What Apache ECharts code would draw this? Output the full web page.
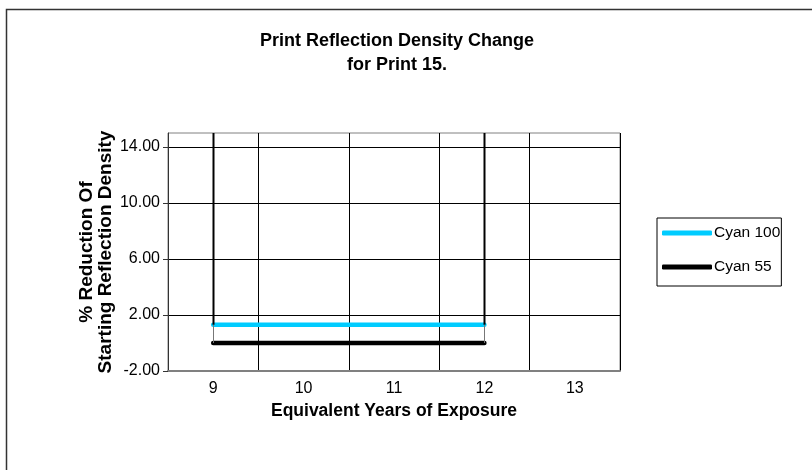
<!DOCTYPE html>
<html>
<head>
<meta charset="utf-8">
<script src="https://cdn.jsdelivr.net/npm/echarts@6/dist/echarts.min.js"></script>
<style>
  html, body { margin: 0; padding: 0; background: #fff; }
  #chart { width: 812px; height: 470px; }
</style>
</head>
<body>
<div id="chart"></div>
<script>
// Exposure years on the category axis
const years = ['9', '10', '11', '12', '13'];
// % reduction of starting reflection density per series
const cyan100 = [1.3, 1.3, 1.3, 1.3, null];
const cyan55 = [0, 0, 0, 0, null];
// Labelled values on the density axis
const yTicks = [-2, 2, 6, 10, 14];
const yMin = -2;
const yMax = 15;
// Categories that carry the vertical marker lines
const markerYears = ['9', '12'];

const font = '"Liberation Sans", Arial, sans-serif';

const chart = echarts.init(document.getElementById('chart'), null, { renderer: 'canvas' });

const markerData = markerYears.map(function (y) {
  const i = years.indexOf(y);
  return [i, yMax, cyan100[i], cyan55[i]];
});

chart.setOption({
  animation: false,
  backgroundColor: '#ffffff',
  textStyle: { fontFamily: font },
  title: {
    text: 'Print Reflection Density Change\nfor Print 15.',
    left: 392,
    top: 24,
    textAlign: 'center',
    textStyle: { fontFamily: font, fontSize: 18, fontWeight: 'bold', color: '#000', lineHeight: 24 }
  },
  legend: {
    orient: 'vertical',
    left: 657,
    top: 218,
    padding: [6, 1, 10, 5],
    itemGap: 16,
    itemWidth: 50,
    itemHeight: 5,
    icon: 'roundRect',
    borderColor: '#000',
    borderWidth: 1,
    borderRadius: 0,
    textStyle: { fontFamily: font, fontSize: 15.5, color: '#000', lineHeight: 18, padding: [0, 0, 0, -3] },
    data: ['Cyan 100', 'Cyan 55']
  },
  grid: {
    left: 168, right: 192, top: 133, bottom: 99,
    show: true, borderColor: '#808080', borderWidth: 1, backgroundColor: '#fff'
  },
  xAxis: {
    type: 'category',
    data: years,
    boundaryGap: true,
    name: 'Equivalent Years of Exposure',
    nameLocation: 'middle',
    nameGap: 31,
    nameMoveOverlap: false,
    nameTextStyle: { fontFamily: font, fontSize: 17.5, fontWeight: 'bold', color: '#000' },
    axisLine: { onZero: false, lineStyle: { color: '#808080', width: 2 } },
    axisTick: { show: false },
    axisLabel: { fontFamily: font, fontSize: 16, color: '#000', margin: 10 },
    splitLine: { show: true, lineStyle: { color: '#000', width: 1 } }
  },
  yAxis: {
    type: 'value',
    min: yMin,
    max: yMax,
    name: '% Reduction Of\nStarting Reflection Density',
    nameLocation: 'middle',
    nameRotate: 90,
    nameGap: 53,
    nameMoveOverlap: false,
    nameTextStyle: { fontFamily: font, fontSize: 19, fontWeight: 'bold', color: '#000', lineHeight: 19 },
    axisLine: { show: true, lineStyle: { color: '#333', width: 1 } },
    axisTick: { show: true, inside: false, length: 5, customValues: yTicks, lineStyle: { color: '#333' } },
    axisLabel: {
      fontFamily: font, fontSize: 16, color: '#000', margin: 8,
      customValues: yTicks,
      formatter: function (v) { return v.toFixed(2); }
    },
    splitLine: { show: true, lineStyle: { color: '#000', width: 1 } }
  },
  graphic: [{
    type: 'rect',
    shape: { x: 6.5, y: 9.5, width: 830, height: 490 },
    style: { fill: 'none', stroke: '#333', lineWidth: 1.5 },
    silent: true,
    z: -10
  }],
  series: [
    {
      name: 'Cyan 100',
      type: 'line',
      data: cyan100,
      symbol: 'none',
      color: '#00CCFF',
      lineStyle: { color: '#00CCFF', width: 4.5, cap: 'round' },
      z: 4
    },
    {
      name: 'Cyan 55',
      type: 'line',
      data: cyan55,
      symbol: 'none',
      color: '#000000',
      lineStyle: { color: '#000000', width: 4.5, cap: 'round' },
      z: 3
    },
    {
      name: 'markers',
      type: 'custom',
      data: markerData,
      clip: true,
      z: 5,
      renderItem: function (params, api) {
        const top = api.coord([api.value(0), api.value(1)]);
        const mid = api.coord([api.value(0), api.value(2)]);
        const low = api.coord([api.value(0), api.value(3)]);
        const x = Math.round(top[0]) + 0.5;
        return {
          type: 'group',
          children: [
            { type: 'line', shape: { x1: x, y1: top[1], x2: x, y2: mid[1] },
              style: { stroke: '#000', lineWidth: 2 } },
            { type: 'line', shape: { x1: x, y1: mid[1], x2: x, y2: low[1] },
              style: { stroke: '#777', lineWidth: 1 } }
          ]
        };
      }
    }
  ]
});
</script>
</body>
</html>
